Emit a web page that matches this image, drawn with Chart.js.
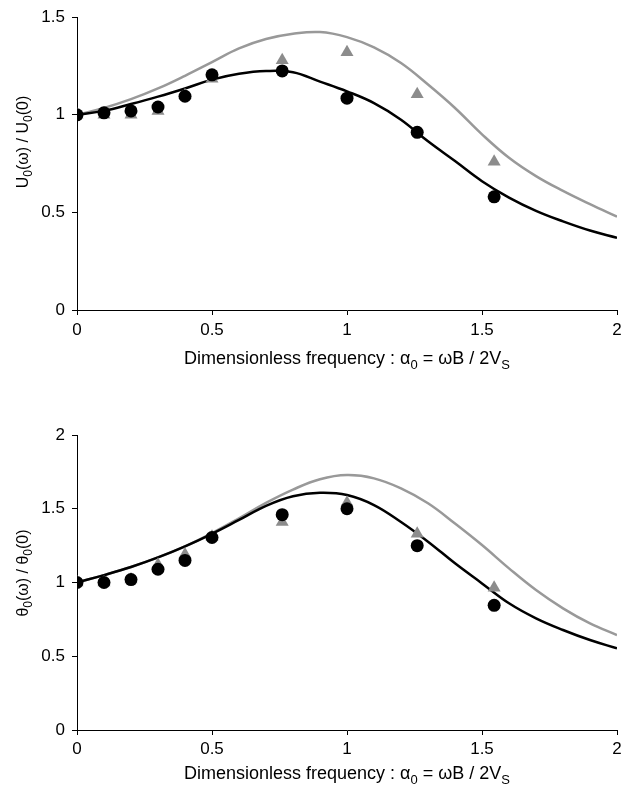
<!DOCTYPE html>
<html>
<head>
<meta charset="utf-8">
<script src="https://cdn.jsdelivr.net/npm/chart.js@4"></script>
<style>
  html, body { margin: 0; padding: 0; background: #fff; }
  .wrap { position: absolute; left: 0; width: 634px; }
</style>
</head>
<body>
<div class="wrap" style="top:0"><canvas id="topChart" width="634" height="397"></canvas></div>
<div class="wrap" style="top:397px"><canvas id="botChart" width="634" height="398"></canvas></div>
<script>
// measured points (same frequencies for both panels)
const xExp = [0, 0.1, 0.2, 0.3, 0.4, 0.5, 0.76, 1.0, 1.26, 1.545];
const topCircles = [1.0, 1.01, 1.02, 1.04, 1.095, 1.205, 1.225, 1.085, 0.91, 0.58];
const topTriangles = [1.0, 1.0, 1.0, 1.02, 1.1, 1.185, 1.28, 1.32, 1.105, 0.76];
const botCircles = [1.0, 1.0, 1.02, 1.09, 1.15, 1.305, 1.46, 1.5, 1.25, 0.845];
const botTriangles = [1.0, 1.0, 1.02, 1.12, 1.19, 1.31, 1.41, 1.54, 1.33, 0.965];

// computed curves
const xCurve = [0, 0.1, 0.2, 0.3, 0.4, 0.5, 0.6, 0.7, 0.8, 0.9, 1.0, 1.1, 1.2, 1.3, 1.4, 1.5, 1.6, 1.7, 1.8, 1.9, 2.0];
const topBlack = [1.0, 1.02, 1.055, 1.093, 1.135, 1.18, 1.21, 1.224, 1.218, 1.17, 1.12, 1.06, 0.975, 0.864, 0.763, 0.66, 0.576, 0.508, 0.454, 0.407, 0.37];
const topGray = [1.0, 1.035, 1.08, 1.135, 1.2, 1.27, 1.34, 1.388, 1.415, 1.424, 1.398, 1.345, 1.265, 1.155, 1.035, 0.9, 0.78, 0.686, 0.61, 0.542, 0.478];
const botBlack = [1.0, 1.05, 1.105, 1.17, 1.245, 1.33, 1.424, 1.52, 1.585, 1.608, 1.593, 1.525, 1.41, 1.277, 1.13, 0.994, 0.859, 0.757, 0.678, 0.61, 0.554];
const botGray = [1.0, 1.05, 1.105, 1.17, 1.245, 1.335, 1.435, 1.54, 1.63, 1.70, 1.728, 1.706, 1.638, 1.537, 1.40, 1.254, 1.096, 0.949, 0.825, 0.723, 0.644];

const topYTicks = [0, 0.5, 1, 1.5];
const botYTicks = [0, 0.5, 1, 1.5, 2];
const xTicks = [0, 0.5, 1, 1.5, 2];

const xTitle = [['Dimensionless frequency : α', false], ['0', true], [' = ωB / 2V', false], ['S', true]];
const topYTitle = [['U', false], ['0', true], ['(ω) / U', false], ['0', true], ['(0)', false]];
const botYTitle = [['θ', false], ['0', true], ['(ω) / θ', false], ['0', true], ['(0)', false]];

const FAMILY = '"Liberation Sans", Arial, sans-serif';

function pairs(xs, ys) {
  return xs.map(function (x, i) { return {x: x, y: ys[i]}; });
}

function drawRich(ctx, parts, cx, baseline, size, subSize, drop) {
  const mainFont = size + 'px ' + FAMILY;
  const subFont = subSize + 'px ' + FAMILY;
  let total = 0;
  parts.forEach(function (p) {
    ctx.font = p[1] ? subFont : mainFont;
    total += ctx.measureText(p[0]).width;
  });
  let x = cx - total / 2;
  ctx.textAlign = 'left';
  ctx.textBaseline = 'alphabetic';
  parts.forEach(function (p) {
    ctx.font = p[1] ? subFont : mainFont;
    ctx.fillText(p[0], x, baseline + (p[1] ? drop : 0));
    x += ctx.measureText(p[0]).width;
  });
}

const richTitles = {
  id: 'richTitles',
  afterDraw(chart, args, opts) {
    const ctx = chart.ctx;
    const area = chart.chartArea;
    ctx.save();
    ctx.fillStyle = '#000';
    drawRich(ctx, opts.xTitle, (area.left + area.right) / 2, opts.xBaseline, 18, 13, 5);
    ctx.translate(opts.yBaselineX, opts.yCenter);
    ctx.rotate(-Math.PI / 2);
    drawRich(ctx, opts.yTitle, 0, 0, 16, 12, 4);
    ctx.restore();
  }
};

function tickText(v) {
  return String(v);
}

function drawPanel(canvasId, circles, triangles, black, gray, yMax, yTicks, yTitle, padTop, xAxisHeight, xTickPad, xBaseline, yCenter) {
  const ctx = document.getElementById(canvasId);
  return new Chart(ctx, {
    type: 'scatter',
    data: {
      datasets: [
        {
          label: 'circles',
          data: pairs(xExp, circles),
          pointStyle: 'circle',
          pointRadius: 6.5,
          pointHoverRadius: 6.5,
          backgroundColor: '#000',
          borderColor: '#000',
          borderWidth: 0,
          order: 0
        },
        {
          label: 'triangles',
          data: pairs(xExp, triangles),
          pointStyle: 'triangle',
          pointRadius: 7.5,
          pointHoverRadius: 7.5,
          backgroundColor: '#8c8c8c',
          borderColor: '#8c8c8c',
          borderWidth: 0,
          order: 1
        },
        {
          label: 'black curve',
          data: pairs(xCurve, black),
          showLine: true,
          pointRadius: 0,
          borderColor: '#000',
          borderWidth: 2.5,
          tension: 0.4,
          order: 2
        },
        {
          label: 'gray curve',
          data: pairs(xCurve, gray),
          showLine: true,
          pointRadius: 0,
          borderColor: '#999',
          borderWidth: 2.5,
          tension: 0.4,
          order: 3
        }
      ]
    },
    options: {
      responsive: false,
      animation: false,
      layout: { padding: { top: padTop, right: 17, left: 0, bottom: 0 } },
      plugins: {
        legend: { display: false },
        tooltip: { enabled: false },
        richTitles: { xTitle: xTitle, yTitle: yTitle, xBaseline: xBaseline, yBaselineX: 28, yCenter: yCenter }
      },
      scales: {
        x: {
          type: 'linear',
          min: 0,
          max: 2,
          afterBuildTicks: function (axis) { axis.ticks = xTicks.map(function (v) { return {value: v}; }); },
          afterFit: function (axis) { axis.height = xAxisHeight; },
          ticks: { color: '#000', font: { family: FAMILY, size: 17 }, padding: xTickPad, maxRotation: 0, callback: tickText },
          grid: { display: true, drawOnChartArea: false, drawTicks: true, tickLength: 5, color: '#000', lineWidth: 1 },
          border: { color: '#000', width: 1 }
        },
        y: {
          type: 'linear',
          min: 0,
          max: yMax,
          afterBuildTicks: function (axis) { axis.ticks = yTicks.map(function (v) { return {value: v}; }); },
          afterFit: function (axis) { axis.width = 77; },
          ticks: { color: '#000', font: { family: FAMILY, size: 17 }, padding: 7, callback: tickText },
          grid: { display: true, drawOnChartArea: false, drawTicks: true, tickLength: 5, color: '#000', lineWidth: 1 },
          border: { color: '#000', width: 1 }
        }
      }
    },
    plugins: [richTitles]
  });
}

drawPanel('topChart', topCircles, topTriangles, topBlack, topGray, 1.5, topYTicks, topYTitle, 15, 87, 5, 364, 142);
drawPanel('botChart', botCircles, botTriangles, botBlack, botGray, 2, botYTicks, botYTitle, 38, 65, 4, 382, 176);
</script>
</body>
</html>
